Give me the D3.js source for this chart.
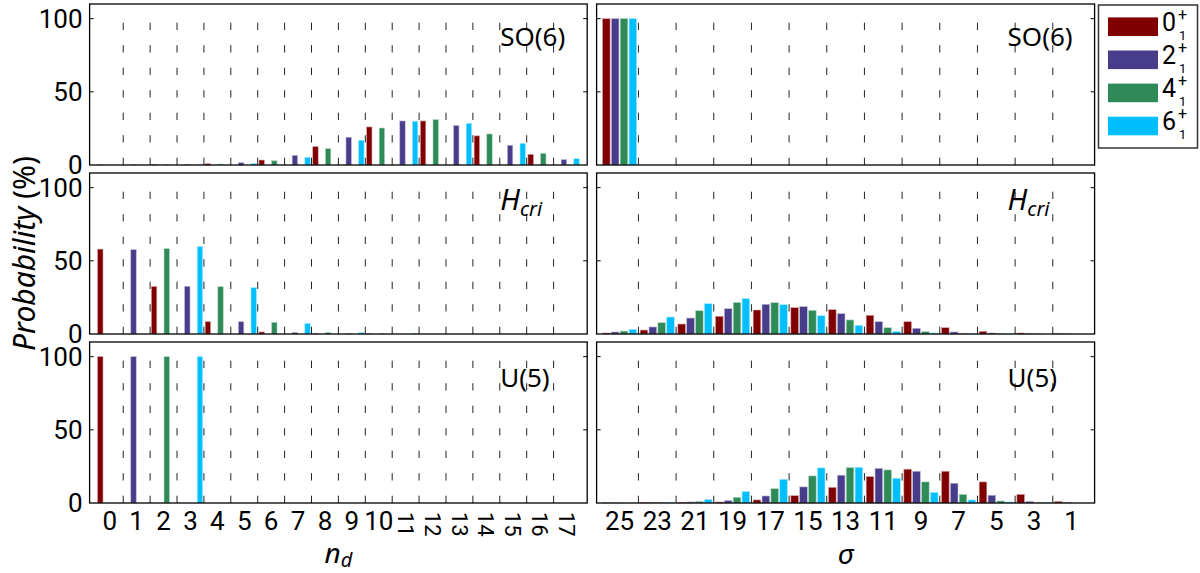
<!DOCTYPE html>
<html lang="en">
<head>
  <meta charset="UTF-8" />
  <title>Probability distributions</title>
  <script src="https://d3js.org/d3.v7.min.js"></script>
  <style>
    body { margin: 0; background: #fff; }
    svg { display: block; }
    .num { font-family: Roboto, "Noto Sans", sans-serif; }
    .ital { font-family: "Noto Sans", "DejaVu Sans", sans-serif; font-style: italic; }
    .sans { font-family: "Noto Sans", "DejaVu Sans", sans-serif; }
  </style>
</head>
<body>
  <div id="chart"></div>

  <script>
    // legend states and bar colours
    const states = ["0", "2", "4", "6"];
    const colors = ["#800000", "#483d8b", "#2e8b57", "#00bfff"];

    // x tick labels
    const ndTicks = [0, 1, 2, 3, 4, 5, 6, 7, 8, 9, 10, 11, 12, 13, 14, 15, 16, 17];
    const sigmaTicks = [25, 23, 21, 19, 17, 15, 13, 11, 9, 7, 5, 3, 1];
    const yTicks = [0, 50, 100];

    // n_d distributions (%), one row per state 0+, 2+, 4+, 6+
    const so6Nd = [
      [0.1, 0, 0.3, 0, 0.9, 0, 3.4, 0, 12.6, 0, 26, 0, 30.1, 0, 19.9, 0, 7.3, 0],
      [0, 0.2, 0, 0.5, 0, 1.6, 0, 6.6, 0, 19, 0, 30.1, 0, 27, 0, 13.5, 0, 3.7],
      [0, 0, 0.3, 0, 0.6, 0, 2.9, 0, 11.2, 0, 25.3, 0, 31, 0, 21.2, 0, 8, 0],
      [0, 0, 0, 0.4, 0, 1.1, 0, 5.3, 0, 16.9, 0, 29.9, 0, 28.5, 0, 14.8, 0, 4.3]
    ];
    const hcriNd = [
      [58, 0, 32.5, 0, 8.4, 0, 1.4, 0, 0.3, 0, 0.05, 0, 0, 0, 0, 0, 0, 0],
      [0, 57.6, 0, 32.6, 0, 8.4, 0, 1.1, 0, 0.2, 0, 0, 0, 0, 0, 0, 0, 0],
      [0, 0, 58.3, 0, 32.3, 0, 8, 0, 1.1, 0, 0.2, 0, 0, 0, 0, 0, 0, 0],
      [0, 0, 0, 59.9, 0, 31.7, 0, 7.3, 0, 0.9, 0, 0.2, 0, 0, 0, 0, 0, 0]
    ];
    const u5Nd = [
      [100, 0, 0, 0, 0, 0, 0, 0, 0, 0, 0, 0, 0, 0, 0, 0, 0, 0],
      [0, 100, 0, 0, 0, 0, 0, 0, 0, 0, 0, 0, 0, 0, 0, 0, 0, 0],
      [0, 0, 100, 0, 0, 0, 0, 0, 0, 0, 0, 0, 0, 0, 0, 0, 0, 0],
      [0, 0, 0, 100, 0, 0, 0, 0, 0, 0, 0, 0, 0, 0, 0, 0, 0, 0]
    ];

    // sigma distributions (%), sigma = 25 ... 1
    const so6Sigma = [
      [100, 0, 0, 0, 0, 0, 0, 0, 0, 0, 0, 0, 0],
      [100, 0, 0, 0, 0, 0, 0, 0, 0, 0, 0, 0, 0],
      [100, 0, 0, 0, 0, 0, 0, 0, 0, 0, 0, 0, 0],
      [100, 0, 0, 0, 0, 0, 0, 0, 0, 0, 0, 0, 0]
    ];
    const hcriSigma = [
      [0.7, 2.7, 6.8, 12.1, 16.4, 18, 16.6, 12.8, 8.4, 4.3, 1.8, 0.7, 0.2],
      [1.4, 4.8, 10.9, 17.3, 20.3, 18.7, 13.9, 8.4, 3.9, 1.4, 0.7, 0.2, 0.1],
      [2, 7.7, 15.9, 21.6, 21.4, 16.2, 9.6, 4.3, 1.6, 0.5, 0.2, 0.1, 0],
      [3.2, 11.6, 20.7, 24.1, 20, 12.5, 5.9, 1.8, 0.7, 0.2, 0.1, 0, 0]
    ];
    const u5Sigma = [
      [0.1, 0.2, 0.5, 0.7, 2.1, 5, 10.7, 18, 23.1, 21.7, 14.4, 5.9, 1.1],
      [0.1, 0.3, 0.7, 1.6, 4.8, 11, 19, 23.7, 21.7, 13.5, 5.3, 1.1, 0.3],
      [0.1, 0.4, 1.1, 3.9, 9.8, 18.5, 24.2, 22.6, 14.4, 5.9, 1.4, 0.4, 0],
      [0.1, 0.5, 2.5, 7.8, 16.2, 24, 24.4, 16.9, 7.3, 2.1, 0.7, 0.2, 0]
    ];

    const width = 1200, height = 573;

    const svg = d3.select("#chart").append("svg")
      .attr("width", width)
      .attr("height", height);

    const cols = [
      { x0: 89.6, x1: 587.2, domain: [-0.75, 17.75], ticks: ndTicks },
      { x0: 596.6, x1: 1094.6, domain: [-0.61, 12.61], ticks: sigmaTicks }
    ];
    const rows = [
      { y0: 4, y1: 165, name: "so6" },
      { y0: 173, y1: 334, name: "hcri" },
      { y0: 342, y1: 503, name: "u5" }
    ];
    const panelData = [[so6Nd, so6Sigma], [hcriNd, hcriSigma], [u5Nd, u5Sigma]];

    function drawLabel(g, row, col) {
      const xl = cols[col].x1 - 87;
      if (row.name === "hcri") {
        const t = g.append("text")
          .attr("class", "ital")
          .attr("x", xl).attr("y", row.y0 + 37)
          .style("font-size", "29px");
        t.append("tspan").text("H");
        t.append("tspan").attr("dy", 6).style("font-size", "20px").text("cri");
      } else {
        g.append("text")
          .attr("class", "sans")
          .attr("x", xl).attr("y", row.y0 + (row.name === "so6" ? 42 : 45))
          .style("font-size", "26px")
          .text(row.name === "so6" ? "SO(6)" : "U(5)");
      }
    }

    rows.forEach((row, ri) => {
      const y = d3.scaleLinear().domain([0, 110]).range([row.y1, row.y0]);

      cols.forEach((col, ci) => {
        const x = d3.scaleLinear().domain(col.domain).range([col.x0, col.x1]);
        const step = x(1) - x(0);
        const sub = d3.scaleBand().domain(states).range([-0.47 * step, 0.47 * step]);
        const bw = sub.bandwidth() * 0.86;
        const data = panelData[ri][ci];
        const g = svg.append("g");

        // dashed separators between groups, drawn from the baseline upward
        const seps = col.ticks.slice(0, -1).map((d, i) => i + 0.5);
        g.selectAll("line.sep")
          .data(seps)
          .enter()
          .append("line")
          .attr("x1", d => x(d)).attr("x2", d => x(d))
          .attr("y1", y(0)).attr("y2", y(100))
          .attr("stroke", "#222")
          .attr("stroke-width", 1)
          .attr("stroke-dasharray", "7.3,15.2");

        // bars
        states.forEach((s, si) => {
          g.selectAll(null)
            .data(data[si])
            .enter()
            .append("rect")
            .attr("x", (d, i) => x(i) + sub(s) + (sub.bandwidth() - bw) / 2)
            .attr("y", d => y(d))
            .attr("width", bw)
            .attr("height", d => y(0) - y(d))
            .attr("fill", colors[si])
            .attr("stroke", d3.interpolateRgb(colors[si], "#fff")(0.65))
            .attr("stroke-width", 0.6);
        });

        // frame
        g.append("rect")
          .attr("x", col.x0).attr("y", row.y0)
          .attr("width", col.x1 - col.x0).attr("height", row.y1 - row.y0)
          .attr("fill", "none")
          .attr("stroke", "#000")
          .attr("stroke-width", 1.3);

        // inner y ticks on both sides
        yTicks.slice(1).forEach(d => {
          g.append("line").attr("x1", col.x0).attr("x2", col.x0 + 4)
            .attr("y1", y(d)).attr("y2", y(d)).attr("stroke", "#000");
          g.append("line").attr("x1", col.x1 - 4).attr("x2", col.x1)
            .attr("y1", y(d)).attr("y2", y(d)).attr("stroke", "#000");
        });

        if (ci === 0) {
          g.selectAll("text.ytl")
            .data(yTicks)
            .enter()
            .append("text")
            .attr("class", "num")
            .attr("x", col.x0 - 7)
            .attr("y", d => y(d))
            .attr("dy", "0.36em")
            .attr("text-anchor", "end")
            .style("font-size", "26px")
            .text(d => d);
        }

        drawLabel(g, row, ci);

        // x tick labels on the bottom row
        if (ri === 2) {
          col.ticks.forEach((t, i) => {
            if (ci === 0 && t > 10) {
              g.append("text")
                .attr("class", "num")
                .attr("transform", `translate(${x(i)},${row.y1 + 9}) rotate(90)`)
                .attr("dy", "0.36em")
                .style("font-size", "22px")
                .text(t);
            } else {
              g.append("text")
                .attr("class", "num")
                .attr("x", x(i))
                .attr("y", row.y1 + 27)
                .attr("text-anchor", "middle")
                .style("font-size", "26px")
                .text(t);
            }
          });
        }
      });
    });

    // axis titles
    const nd = svg.append("text")
      .attr("class", "ital")
      .attr("x", (cols[0].x0 + cols[0].x1) / 2)
      .attr("y", 563)
      .attr("text-anchor", "middle")
      .style("font-size", "28px");
    nd.append("tspan").text("n");
    nd.append("tspan").attr("dy", 4).style("font-size", "20px").text("d");

    svg.append("text")
      .attr("class", "ital")
      .attr("x", (cols[1].x0 + cols[1].x1) / 2)
      .attr("y", 564)
      .attr("text-anchor", "middle")
      .style("font-size", "28px")
      .text("σ");

    const yl = svg.append("text")
      .attr("class", "ital")
      .attr("transform", `translate(35,${(rows[0].y0 + rows[2].y1) / 2}) rotate(-90)`)
      .attr("text-anchor", "middle")
      .style("font-size", "30px");
    yl.append("tspan").text("Probability");
    yl.append("tspan").style("font-style", "normal").text(" (%)");

    // legend
    const leg = svg.append("g");
    leg.append("rect")
      .attr("x", 1098.5).attr("y", 5)
      .attr("width", 99).attr("height", 143)
      .attr("fill", "#fff")
      .attr("stroke", "#333")
      .attr("stroke-width", 1.5);

    states.forEach((s, i) => {
      const cy = 26.7 + i * 33.1;
      leg.append("rect")
        .attr("x", 1108).attr("y", cy - 9.3)
        .attr("width", 50).attr("height", 18.6)
        .attr("fill", colors[i]);
      leg.append("text")
        .attr("class", "num")
        .attr("x", 1162).attr("y", cy + 4)
        .style("font-size", "25px")
        .text(s);
      leg.append("text")
        .attr("class", "num")
        .attr("x", 1178).attr("y", cy - 7)
        .style("font-size", "16px")
        .text("+");
      leg.append("text")
        .attr("class", "num")
        .attr("x", 1179).attr("y", cy + 13)
        .style("font-size", "13px")
        .text("1");
    });
  </script>
</body>
</html>
